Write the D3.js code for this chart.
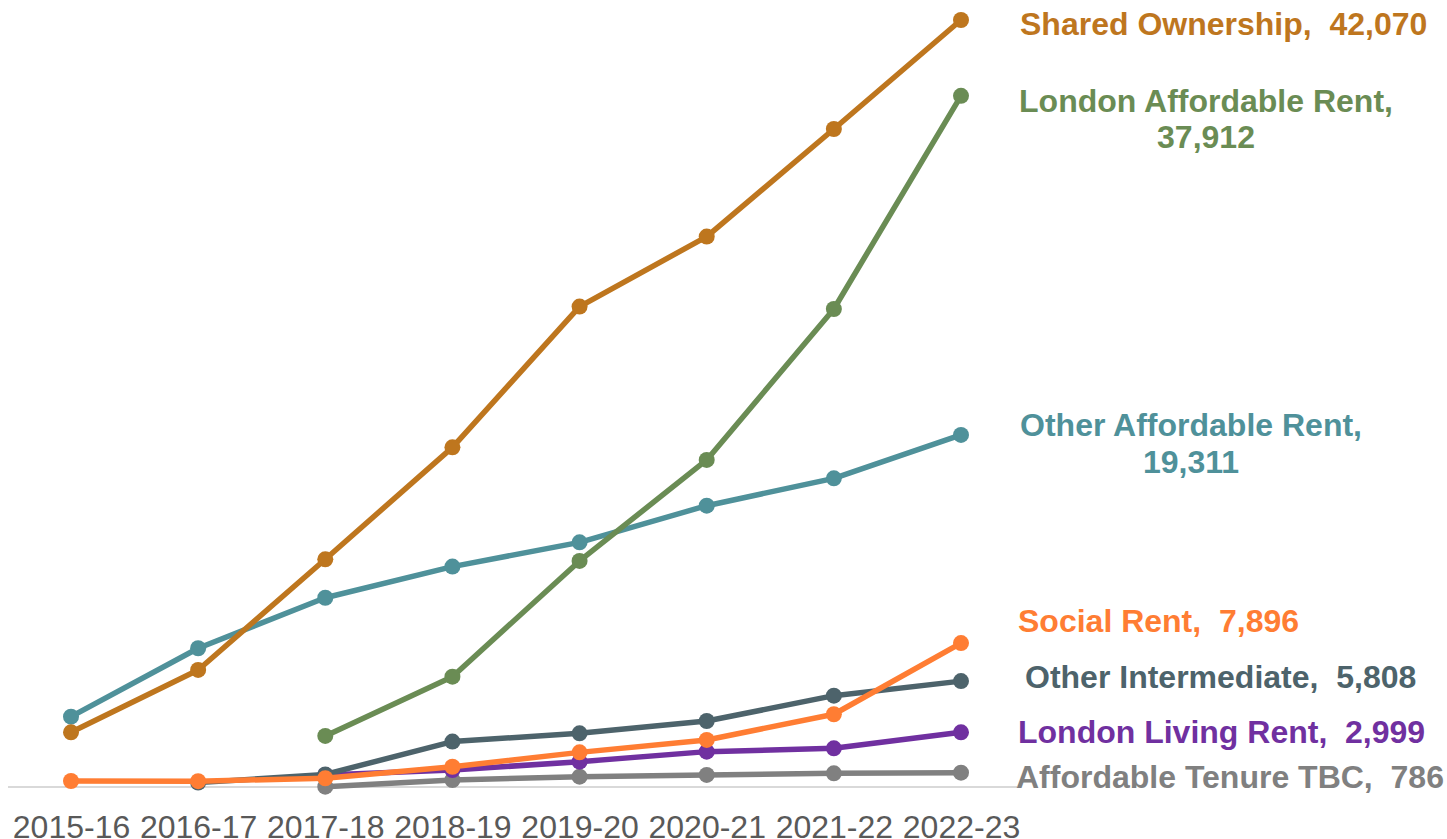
<!DOCTYPE html>
<html>
<head>
<meta charset="utf-8">
<script src="https://cdn.jsdelivr.net/npm/d3@7"></script>
<style>
  html, body { margin: 0; padding: 0; background: #ffffff; }
  svg { display: block; }
  text { font-family: "Liberation Sans", Arial, sans-serif; }
</style>
</head>
<body>
<svg id="chart" width="1447" height="839"></svg>
<script>
// ---- Data ----
const categories = ["2015-16", "2016-17", "2017-18", "2018-19", "2019-20", "2020-21", "2021-22", "2022-23"];

const sharedOwnership      = [3000, 6420, 12490, 18630, 26350, 30190, 36090, 42070];
const londonAffordableRent = [null, null, 2800, 6050, 12400, 17940, 26220, 37912];
const otherAffordableRent  = [3860, 7610, 10380, 12090, 13420, 15430, 16930, 19311];
const socialRent           = [330, 320, 480, 1110, 1900, 2580, 3990, 7896];
const otherIntermediate    = [null, 240, 690, 2490, 2945, 3620, 5010, 5808];
const londonLivingRent     = [null, null, 660, 930, 1390, 1940, 2120, 2999];
const affordableTenureTBC  = [null, null, 20, 385, 565, 660, 750, 786];

const seriesNames = ["Affordable Tenure TBC", "London Living Rent", "Other Intermediate",
  "Other Affordable Rent", "London Affordable Rent", "Shared Ownership", "Social Rent"];
const seriesValues = [affordableTenureTBC, londonLivingRent, otherIntermediate,
  otherAffordableRent, londonAffordableRent, sharedOwnership, socialRent];

// ---- Styles / layout ----
const colors = {
  "Shared Ownership": "#BE761E",
  "London Affordable Rent": "#6A8C54",
  "Other Affordable Rent": "#4F919A",
  "Social Rent": "#FF7D33",
  "Other Intermediate": "#4D636B",
  "London Living Rent": "#7030A0",
  "Affordable Tenure TBC": "#808080"
};
const labelLayout = {
  "Shared Ownership":       { anchor: "start",  x: 1020, ys: [35], split: false },
  "London Affordable Rent": { anchor: "middle", x: 1206, ys: [112, 148], split: true },
  "Other Affordable Rent":  { anchor: "middle", x: 1191, ys: [436, 473], split: true },
  "Social Rent":            { anchor: "start",  x: 1018, ys: [632], split: false },
  "Other Intermediate":     { anchor: "start",  x: 1025, ys: [688], split: false },
  "London Living Rent":     { anchor: "start",  x: 1018, ys: [743], split: false },
  "Affordable Tenure TBC":  { anchor: "start",  x: 1016, ys: [788], split: false }
};

const svg = d3.select("#chart");

const x = d3.scalePoint().domain(categories).range([71, 961]);
const yMax = d3.max(seriesValues, s => d3.max(s));
const y = d3.scaleLinear().domain([0, yMax]).range([787, 20]);

// axis line
svg.append("line")
  .attr("x1", 8).attr("x2", 1017)
  .attr("y1", y(0)).attr("y2", y(0))
  .attr("stroke", "#d9d9d9").attr("stroke-width", 2);

// x tick labels via d3 axis
const xAxis = d3.axisBottom(x).tickSize(0).tickPadding(0);
const gx = svg.append("g").attr("transform", `translate(0, ${y(0)})`).call(xAxis);
gx.select(".domain").remove();
gx.selectAll("text")
  .attr("y", 0).attr("dy", 0)
  .attr("transform", "translate(0, 51)")
  .style("font-family", '"Liberation Sans", Arial, sans-serif')
  .style("font-size", "32px")
  .attr("fill", "#595959");

const line = d3.line()
  .defined(d => d.v !== null)
  .x(d => x(d.c))
  .y(d => y(d.v));

const fmt = d3.format(",");

seriesNames.forEach((name, i) => {
  const pts = categories.map((c, j) => ({ c, v: seriesValues[i][j] }));
  const col = colors[name];
  const g = svg.append("g");
  g.append("path")
    .datum(pts)
    .attr("d", line)
    .attr("fill", "none")
    .attr("stroke", col)
    .attr("stroke-width", 5.5)
    .attr("stroke-linejoin", "round");
  g.selectAll("circle")
    .data(pts.filter(d => d.v !== null))
    .enter().append("circle")
    .attr("cx", d => x(d.c))
    .attr("cy", d => y(d.v))
    .attr("r", 8)
    .attr("fill", col);
});

// labels
seriesNames.forEach((name, i) => {
  const lay = labelLayout[name];
  const last = seriesValues[i][seriesValues[i].length - 1];
  const lines = lay.split ? [name + ",", fmt(last)] : [name + ",  " + fmt(last)];
  lines.forEach((t, k) => {
    svg.append("text")
      .attr("x", lay.x)
      .attr("y", lay.ys[k])
      .attr("text-anchor", lay.anchor)
      .style("white-space", "pre")
      .style("font-size", "32px")
      .style("font-weight", "bold")
      .attr("fill", colors[name])
      .text(t);
  });
});
</script>
</body>
</html>
